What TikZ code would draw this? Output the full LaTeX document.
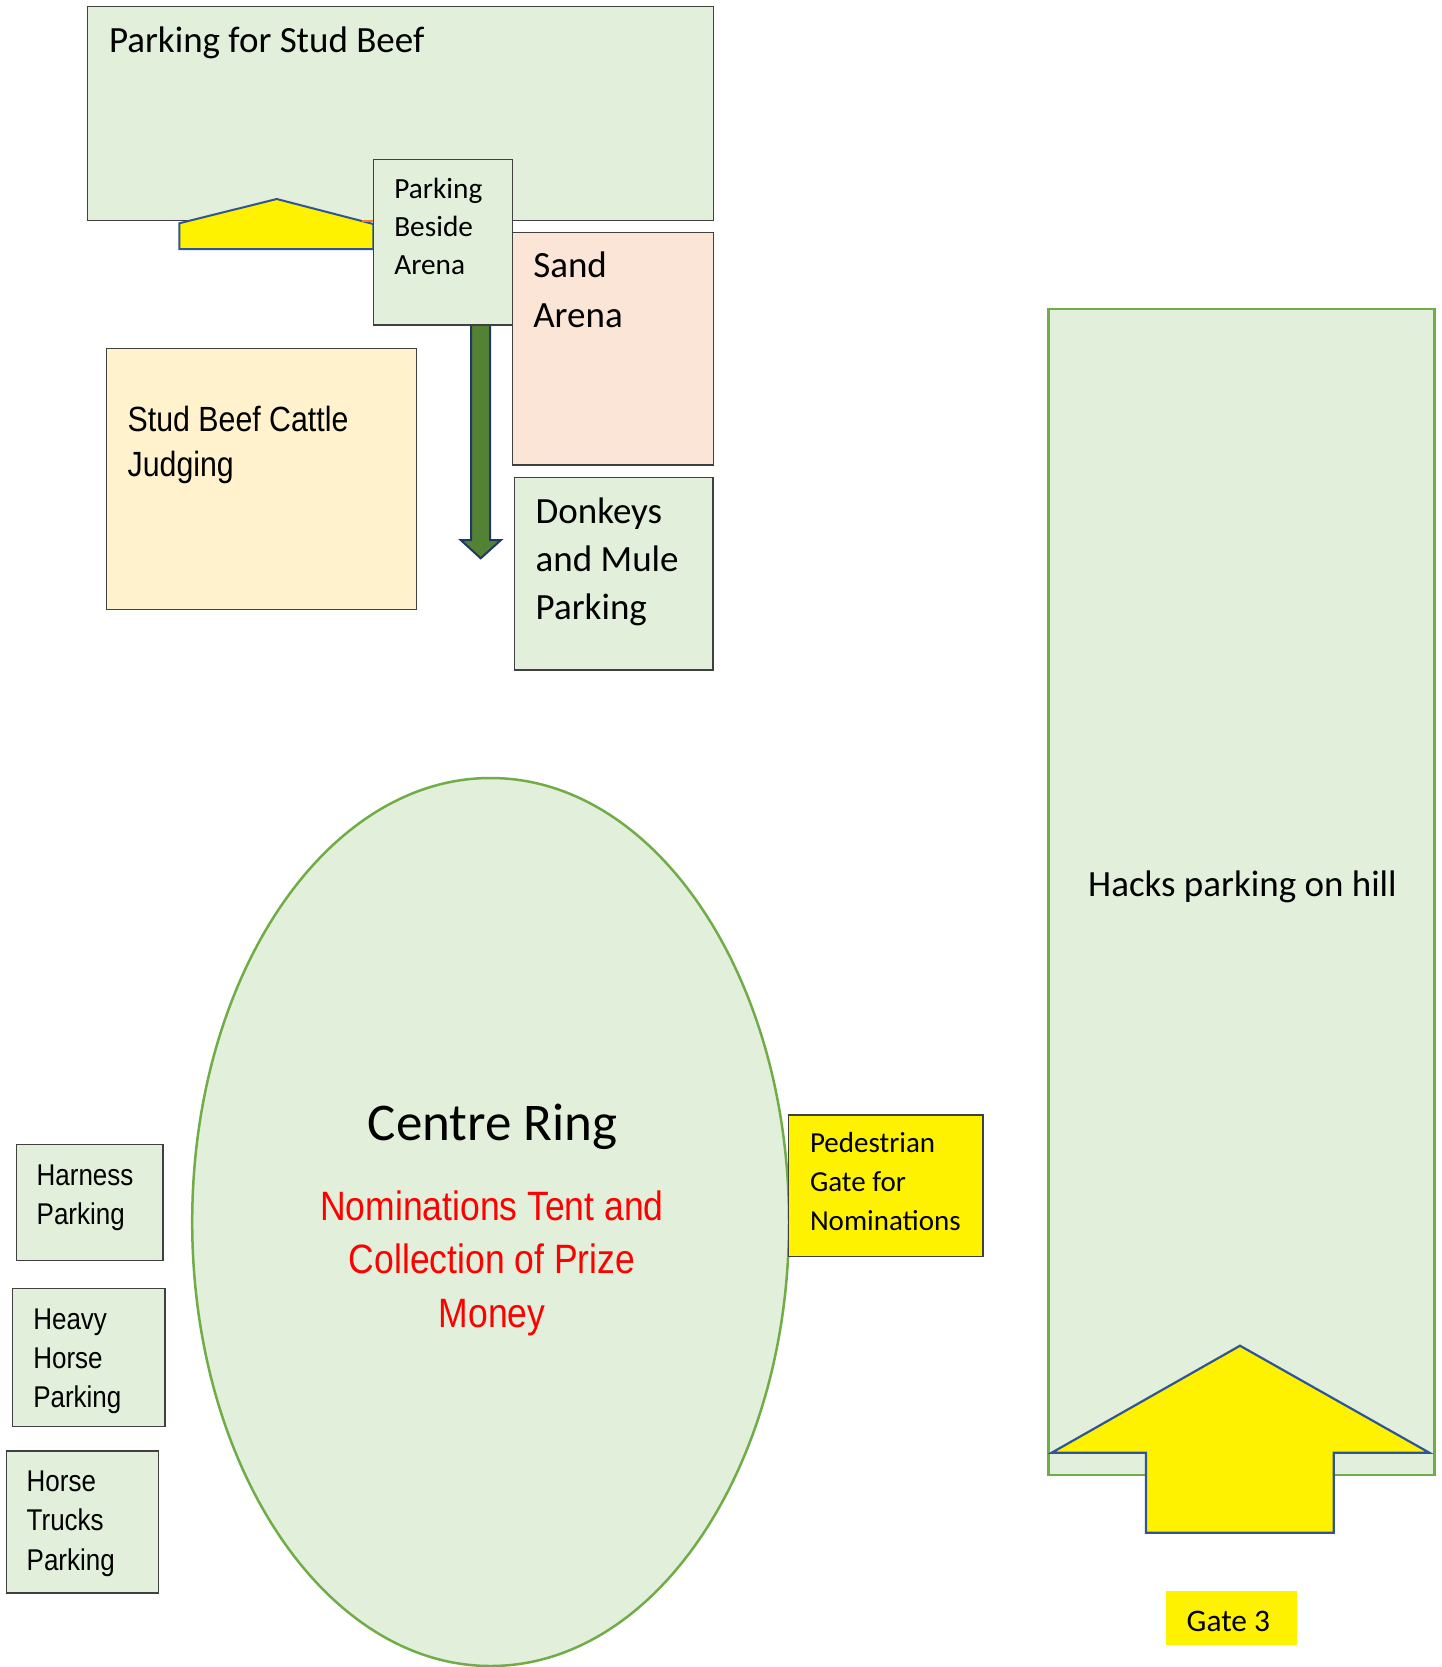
\documentclass[tikz,border=0pt]{standalone}
\usepackage{fontspec}
\usetikzlibrary{shapes.geometric}
\setmainfont{Carlito}
\newfontfamily\narrowfont[FakeStretch=0.866]{Liberation Sans}
\definecolor{zonegreen}{HTML}{E2EFDA}
\definecolor{boxline}{HTML}{404040}
\definecolor{ringline}{HTML}{70AD47}
\definecolor{sandfill}{HTML}{FBE5D6}
\definecolor{cattlefill}{HTML}{FFF2CC}
\definecolor{arrowblue}{HTML}{2F5597}
\definecolor{arrowgreen}{HTML}{548235}
\definecolor{navyline}{HTML}{203864}
\definecolor{orangeedge}{HTML}{ED7D31}
\definecolor{redtext}{HTML}{FF0000}
\newcommand\mylines[3]{\parbox[t]{500pt}{\raggedright\fontsize{#1}{#2}\selectfont #3}}
\newcommand\mynarrow[3]{\parbox[t]{500pt}{\raggedright\narrowfont\fontsize{#1}{#2}\selectfont #3}}
\newcommand\mycentred[3]{\parbox[t]{600pt}{\centering\fontsize{#1}{#2}\selectfont #3}}
\begin{document}
\begin{tikzpicture}[x=1pt,y=-1pt,
  zone/.style={draw=boxline,line width=1.5pt,fill=zonegreen,inner sep=0pt,outer sep=0pt,anchor=north west},
  greenzone/.style={draw=ringline,line width=2.5pt,fill=zonegreen,inner sep=0pt,outer sep=0pt},
  blockarrow/.style={fill=yellow,draw=arrowblue,line width=2.2pt,line join=miter},
  lbl/.style={inner sep=0pt,outer sep=0pt,anchor=base west},
  clbl/.style={inner sep=0pt,outer sep=0pt,anchor=base}
]
\useasboundingbox (0,0) rectangle (1441,1667);
\fill[white] (0,0) rectangle (1441,1667);

% top-left parking
\node[zone,minimum width=626.2pt,minimum height=214pt] (studpark) at (87.3,6.7) {};
\node[lbl] (studparktxt) at (109,52.7) {\mylines{37}{45}{Parking for Stud Beef}};

% small yellow arrow
\filldraw[blockarrow,line width=2pt] (179.3,249) -- (179.3,223.3) -- (276.7,199) -- (373.3,224) -- (373.3,249) -- cycle;
\draw[orangeedge,line width=2pt] (362,221.3) -- (373.3,221.3);

% green down arrow
\filldraw[fill=arrowgreen,draw=navyline,line width=2pt,line join=miter] (471,300) -- (471,540) -- (460.7,540) -- (480.7,558.3) -- (501,540) -- (490,540) -- (490,300) -- cycle;

% parking beside arena
\node[zone,minimum width=139pt,minimum height=165.3pt] (beside) at (373.3,159.7) {};
\node[lbl] (besidetxt) at (394.3,198.3) {\mylines{29.3}{37.85}{Parking\\Beside\\Arena}};

% sand arena
\node[zone,fill=sandfill,minimum width=201pt,minimum height=232.3pt] (sand) at (512.5,232.7) {};
\node[lbl] (sandtxt) at (533.3,277.7) {\mylines{37}{50}{Sand\\Arena}};

% donkeys
\node[zone,minimum width=198.6pt,minimum height=192.3pt] (donkeys) at (514.3,477.7) {};
\node[lbl] (donkeystxt) at (535.7,523.3) {\mylines{37}{48.3}{Donkeys\\and Mule\\Parking}};

% cattle judging
\node[zone,fill=cattlefill,minimum width=310pt,minimum height=260.8pt] (cattle) at (106.7,348.7) {};
\node[lbl] (cattletxt) at (127.7,431) {\mynarrow{35}{45.7}{Stud Beef Cattle\\Judging}};

% hacks
\node[greenzone,anchor=north west,minimum width=386pt,minimum height=1166pt] (hacks) at (1048.3,309) {};
\node[clbl] (hackstxt) at (1242.5,896) {\fontsize{37}{45}\selectfont Hacks parking on hill};

% big yellow arrow
\filldraw[blockarrow] (1240,1345.7) -- (1429.3,1452.7) -- (1333.7,1452.7) -- (1333.7,1532.7) -- (1146,1532.7) -- (1146,1452.7) -- (1051.7,1452.7) -- cycle;

% gate 3
\node[fill=yellow,inner sep=0pt,outer sep=0pt,anchor=north west,minimum width=131pt,minimum height=53.7pt] (gate3) at (1166,1591) {};
\node[lbl] (gate3txt) at (1186.7,1631.7) {\fontsize{31.4}{38}\selectfont Gate 3};

% centre ring
\node[greenzone,ellipse,minimum width=596.8pt,minimum height=888pt] (ring) at (490.6,1222) {};
\node[clbl] (ringtxt) at (492.7,1140.8) {\fontsize{53}{64}\selectfont Centre Ring};
\node[clbl,text=redtext] (nomtxt) at (492,1220) {\mycentred{41}{53.5}{\narrowfont Nominations Tent and\\Collection of Prize\\Money}};

% pedestrian gate
\node[zone,fill=yellow,minimum width=194.3pt,minimum height=141.7pt] (pedgate) at (788.7,1115) {};
\node[lbl] (pedtxt) at (810,1152.7) {\mylines{29}{38.7}{Pedestrian\\Gate for\\Nominations}};

% left small boxes
\node[zone,minimum width=146.3pt,minimum height=116pt] (harness) at (16.7,1144.7) {};
\node[lbl] (harnesstxt) at (36.7,1185.7) {\mynarrow{30}{38.6}{Harness\\Parking}};
\node[zone,minimum width=152.3pt,minimum height=137.6pt] (heavy) at (12.7,1288.7) {};
\node[lbl] (heavytxt) at (33.3,1329.3) {\mynarrow{30}{39.2}{Heavy\\Horse\\Parking}};
\node[zone,minimum width=152.4pt,minimum height=142pt] (trucks) at (6.3,1451) {};
\node[lbl] (truckstxt) at (26.7,1491.7) {\mynarrow{30}{39.2}{Horse\\Trucks\\Parking}};
\end{tikzpicture}
\end{document}
